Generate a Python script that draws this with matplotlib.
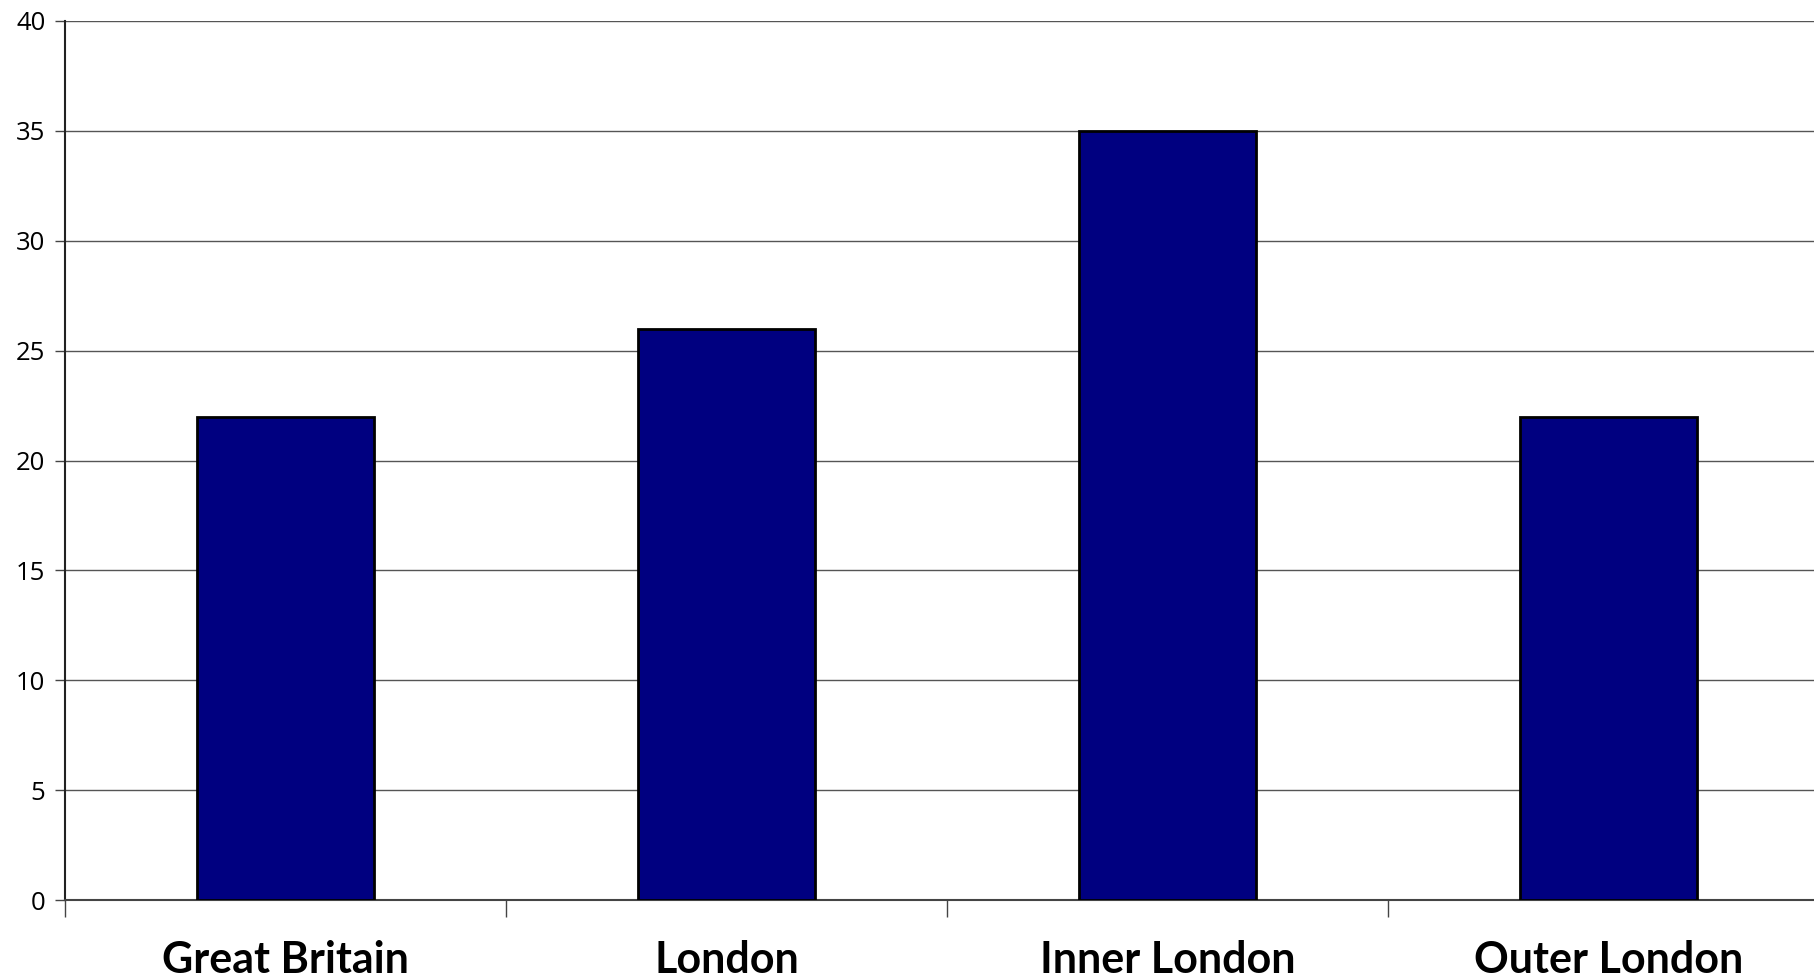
import matplotlib
matplotlib.use("Agg")
import matplotlib.pyplot as plt

categories = ["Great Britain", "London", "Inner London", "Outer London"]
values = [22, 26, 35, 22]
yticks = [0, 5, 10, 15, 20, 25, 30, 35, 40]

W, H = 1814, 977
fig = plt.figure(figsize=(W / 100, H / 100), dpi=100)
ax = fig.add_axes([65 / W, (H - 900) / H, 1764 / W, 879 / H])

x = list(range(len(categories)))
ax.bar(x, values, width=0.40, color="#000080", edgecolor="black", linewidth=2, zorder=3)

ax.set_xlim(-0.5, len(categories) - 0.5)
ax.set_ylim(0, 40)
ax.set_yticks(yticks)
ax.set_yticklabels([str(v) for v in yticks], fontfamily="Open Sans", fontsize=18.5)
ax.tick_params(axis="y", length=7, width=1, pad=7, color="#444444")
ax.yaxis.grid(True, color="#555555", linewidth=1, zorder=0)

ax.set_xticks([i - 0.5 for i in range(len(categories) + 1)])
ax.set_xticklabels([])
ax.tick_params(axis="x", length=12, width=1, color="#444444", direction="out")

for s in ["top", "right"]:
    ax.spines[s].set_visible(False)
ax.spines["left"].set_color("#222222")
ax.spines["left"].set_linewidth(1.5)
ax.spines["bottom"].set_color("#444444")
ax.spines["bottom"].set_linewidth(1.5)

trans = ax.get_xaxis_transform()
for i, c in enumerate(categories):
    ax.text(i, -73 / 879, c, transform=trans, ha="center", va="baseline",
            fontfamily="Lato", fontweight="bold", fontsize=31)

fig.savefig("out.png", dpi=100)
